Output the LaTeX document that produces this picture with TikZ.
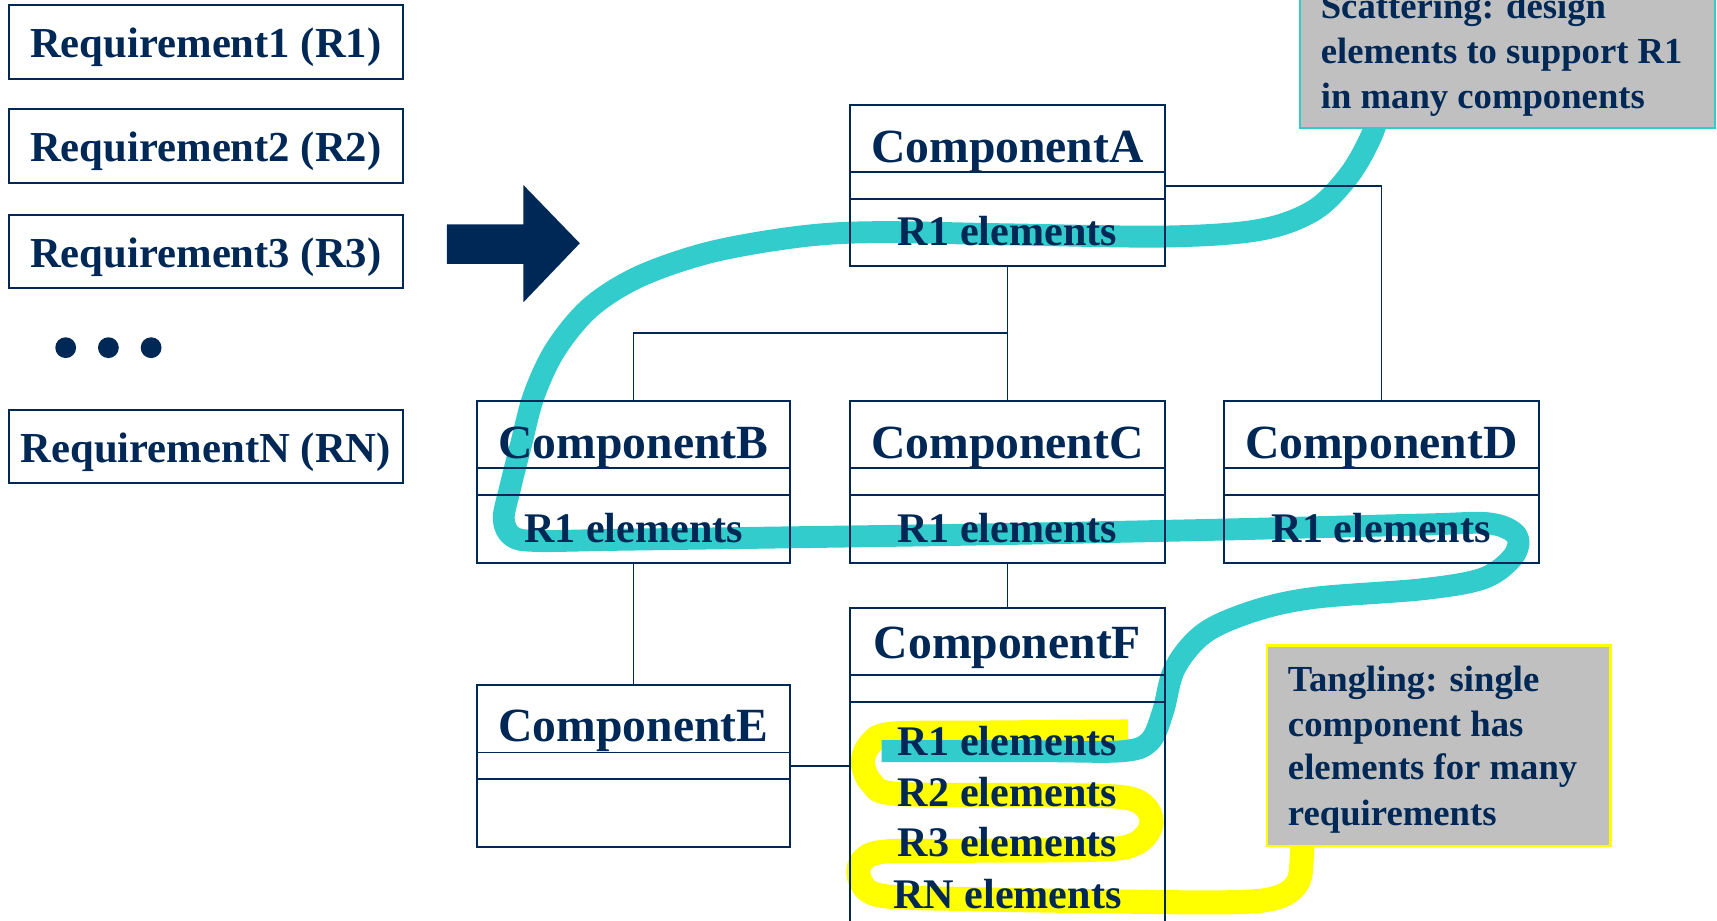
\documentclass[tikz,border=0pt]{standalone}
\usepackage{fontspec}
\setmainfont{Liberation Serif}
\definecolor{navy}{HTML}{002856}
\definecolor{scatter}{HTML}{33CCCC}
\definecolor{tangle}{HTML}{FFFF00}
\definecolor{notegray}{HTML}{C0C0C0}
\newcommand\reqfont{\fontsize{39}{39}\selectfont\bfseries}
\newcommand\compfont{\fontsize{43.5}{43.5}\selectfont\bfseries}
\newcommand\elemfont{\fontsize{38.5}{38.5}\selectfont\bfseries}
\newcommand\notefont{\fontsize{33.5}{33.5}\selectfont\bfseries}
\tikzset{
  frame/.style={draw=navy, line width=1.8pt},
  reqbox/.style={frame, rectangle, minimum width=360pt, minimum height=67pt, inner sep=0pt, outer sep=0pt},
  compbox/.style={frame, rectangle, minimum width=288pt, inner sep=0pt, outer sep=0pt},
  notebox/.style={rectangle, fill=notegray, line width=2pt, inner sep=0pt, outer sep=0pt},
  txt/.style={text=navy, anchor=base, inner sep=0pt},
  reqtext/.style={txt, font=\reqfont},
  comptext/.style={txt, font=\compfont},
  elemtext/.style={txt, font=\elemfont},
  notetext/.style={txt, anchor=base west, font=\notefont},
  wire/.style={draw=navy, line width=1.5pt},
  sep/.style={draw=navy, line width=1.8pt},
  hilite/.style={line width=#1, line join=round},
  dotmark/.style={circle, fill=navy, minimum size=19pt, inner sep=0pt},
}
\begin{document}
\begin{tikzpicture}[x=1pt, y=-1pt]
\useasboundingbox (0,0) rectangle (1568,841);
\clip (0,0) rectangle (1568,841);

% requirement list
\node[reqbox] (r1) at (188,38.2) {};
\node[reqbox] (r2) at (188,133.3) {};
\node[reqbox] (r3) at (188,229.4) {};
\node[reqbox] (rn) at (188,407.9) {};
\node[reqtext] (r1t) at (188,52.4) {Requirement1 (R1)};
\node[reqtext] (r2t) at (188,147.7) {Requirement2 (R2)};
\node[reqtext] (r3t) at (188,244.0) {Requirement3 (R3)};
\node[reqtext] (rnt) at (188,422.3) {RequirementN (RN)};
\node[dotmark] (d1) at (60,317.5) {};
\node[dotmark] (d2) at (99,317.5) {};
\node[dotmark] (d3) at (138,317.5) {};

% block arrow
\fill[navy] (408,205) -- (478,205) -- (478,169) -- (529.5,222.2) -- (478,276) -- (478,241) -- (408,241) -- cycle;

% highlight strokes (tangling, then scattering on top)
\draw[tangle, hilite=22pt] plot[smooth, tension=0.55] coordinates {
  (1190,740) (1189,780) (1185,806) (1165,820) (1120,824) (1000,823) (880,821)
  (805,818) (786,805) (786,788) (805,778) (870,777) (1000,776) (1036,771)
  (1051,755) (1047,738) (1025,728) (950,726) (820,725) (796,715) (788,696)
  (795,679) (815,670) (900,669) (1030,668)};
\draw[scatter, hilite=20pt] plot[smooth, tension=0.55] coordinates {
  (1262,95) (1252,125) (1232,160) (1200,192) (1150,210) (1064,216) (920,214)
  (800,212) (731,216) (650,230) (585,252) (540,280) (508,318) (488,360)
  (476,405) (466,445) (460,474) (468,490) (490,494) (560,493) (700,491)
  (900,488) (1100,484) (1300,479) (1360,478) (1385,489) (1382,508) (1355,528)
  (1300,538) (1200,546) (1145,558) (1100,578) (1073,610) (1062,650) (1050,677)
  (1025,686) (950,686) (805,686)};

% component boxes
\node[compbox, minimum height=147pt] (A) at (920,169.5) {};
\node[compbox, minimum height=148pt, minimum width=286pt] (B) at (578.5,440) {};
\node[compbox, minimum height=148pt] (C) at (920,440) {};
\node[compbox, minimum height=148pt, minimum width=287pt] (D) at (1261.5,440) {};
\node[compbox, minimum height=148pt, minimum width=286pt] (E) at (578.5,699.7) {};
\node[compbox, minimum height=345pt] (F) at (920,727.5) {};

% compartment separators
\foreach \c in {A,B,C,D,E,F}{
  \draw[sep] ([yshift=-61.5pt]\c.north west) -- ([yshift=-61.5pt]\c.north east);
  \draw[sep] ([yshift=-86pt]\c.north west) -- ([yshift=-86pt]\c.north east);
}

% connectors
\coordinate (jAB) at (920,304);
\coordinate (aR) at (1064,169.6);
\coordinate (eR) at (721.5,699.5);
\draw[wire] (A.south) -- (C.north);
\draw[wire] (jAB) -| (B.north);
\draw[wire] (aR) -| (D.north);
\draw[wire] (B.south) -- (E.north);
\draw[wire] (C.south) -- (F.north);
\draw[wire] (eR) -- (eR -| F.west);

% component names
\node[comptext] (An) at (920,148) {ComponentA};
\node[comptext] (Bn) at (578.5,419) {ComponentB};
\node[comptext] (Cn) at (920,419) {ComponentC};
\node[comptext] (Dn) at (1261.5,419) {ComponentD};
\node[comptext] (En) at (578.5,677) {ComponentE};
\node[comptext] (Fn) at (920,601) {ComponentF};

% element rows
\node[elemtext] (Ae) at (920,224) {R1 elements};
\node[elemtext] (Be) at (578.5,495) {R1 elements};
\node[elemtext] (Ce) at (920,495) {R1 elements};
\node[elemtext] (De) at (1261.5,495) {R1 elements};
\node[elemtext] (Fe1) at (920,690) {R1 elements};
\node[elemtext] (Fe2) at (920,736.7) {R2 elements};
\node[elemtext] (Fe3) at (920,782.3) {R3 elements};
\node[elemtext] (Fen) at (920,829.5) {RN elements};

% notes
\node[notebox, draw=scatter, minimum width=379pt, minimum height=167pt] (scat) at (1376.5,33.5) {};
\node[notetext] (s1) at (1206,16.7) {Scattering: design};
\node[notetext] (s2) at (1206,57.8) {elements to support R1};
\node[notetext] (s3) at (1206,99) {in many components};

\node[notebox, draw=tangle, line width=2.5pt, minimum width=314pt, minimum height=183pt] (tang) at (1314,681.1) {};
\node[notetext] (t1) at (1176,631.7) {Tangling: single};
\node[notetext] (t2) at (1176,672.8) {component has};
\node[notetext] (t3) at (1176,712.3) {elements for many};
\node[notetext] (t4) at (1176,753.4) {requirements};
\end{tikzpicture}
\end{document}
